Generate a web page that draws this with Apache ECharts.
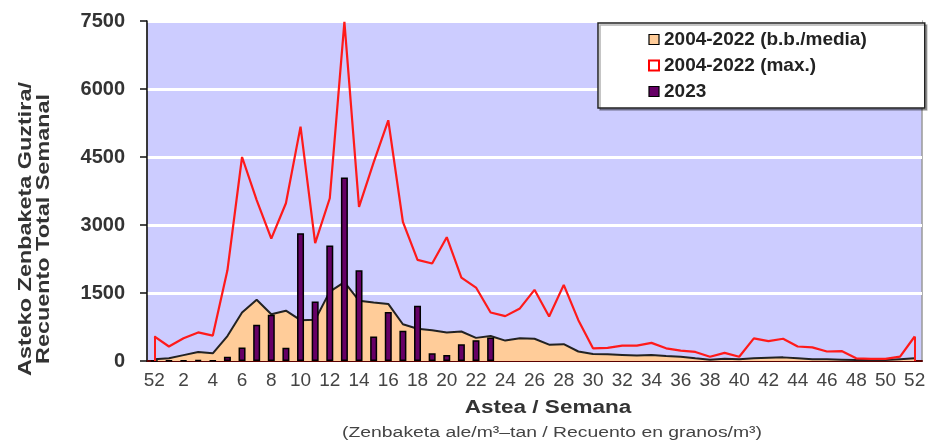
<!DOCTYPE html>
<html>
<head>
<meta charset="utf-8">
<script src="https://cdn.jsdelivr.net/npm/echarts@6/dist/echarts.min.js"></script>
<style>
  html, body { margin: 0; padding: 0; background: #fff; }
  #chart { width: 934px; height: 448px; }
</style>
</head>
<body>
<div id="chart"></div>
<script>
// semanas: 52 (año anterior), 1 ... 52
var weeks = ['52']
for (var w = 1; w <= 52; w++) weeks.push(String(w))

// 2004-2022 media
var meanVals = [40, 60, 130, 200, 170, 550, 1070, 1350, 1030, 1110, 900, 910, 1530, 1740, 1330, 1290, 1260, 810, 710, 680,
  630, 650, 510, 550, 450, 500, 490, 360, 370, 210, 155, 150, 135, 120, 130, 110, 95, 60, 30, 50,
  40, 60, 70, 80, 60, 40, 40, 30, 20, 20, 20, 40, 60]

// 2004-2022 max
var maxVals = [545, 320, 500, 630, 560, 2000, 4500, 3550, 2700, 3480, 5170, 2600, 3590, 7480, 3400, 4380, 5310, 3070, 2230, 2150,
  2730, 1840, 1620, 1070, 990, 1160, 1570, 980, 1680, 900, 280, 290, 340, 340, 400, 280, 230, 200, 95, 180,
  95, 500, 440, 490, 320, 300, 210, 220, 60, 45, 45, 95, 540]

// 2023
var vals2023 = [0, 10, 15, 20, 10, 95, 300, 800, 1020, 290, 2820, 1310, 2550, 4050, 2000, 540, 1080, 670, 1220, 170,
  130, 370, 460, 520, null, null, null, null, null, null, null, null, null, null, null, null, null, null, null, null,
  null, null, null, null, null, null, null, null, null, null, null, null, null]

var yTicks = [0, 1500, 3000, 4500, 6000, 7500]
var last = weeks.length - 1

var chart = echarts.init(document.getElementById('chart'))
chart.setOption({
  animation: false,
  grid: {
    left: 147,
    right: 12,
    top: 21,
    bottom: 87,
    show: true,
    backgroundColor: '#ccccff',
    borderColor: '#999',
    borderWidth: 1.5
  },
  legend: {
    orient: 'vertical',
    left: 598,
    top: 23,
    padding: [7, 58, 7, 50],
    itemWidth: 10,
    itemHeight: 10,
    itemGap: 7,
    backgroundColor: '#fff',
    borderColor: '#222',
    borderWidth: 1.5,
    shadowColor: 'rgba(0,0,0,0.3)',
    shadowOffsetX: 2,
    shadowOffsetY: 2,
    textStyle: { fontFamily: 'Liberation Sans, Arial, sans-serif', fontSize: 19, fontWeight: 'bold', color: '#222' },
    data: [
      { name: '2004-2022 (b.b./media)', icon: 'rect', itemStyle: { color: '#ffcc99', borderColor: '#000', borderWidth: 1.2 } },
      { name: '2004-2022 (max.)', icon: 'rect', itemStyle: { color: '#fff', borderColor: '#ff0000', borderWidth: 2 } },
      { name: '2023', icon: 'rect', itemStyle: { color: '#660066', borderColor: '#000', borderWidth: 1.2 } }
    ]
  },
  xAxis: {
    type: 'category',
    data: weeks,
    boundaryGap: true,
    axisLine: { lineStyle: { color: '#5a0000', width: 2 } },
    axisTick: { interval: 0, length: 5, lineStyle: { color: '#222', width: 1.5 } },
    axisLabel: {
      interval: 1,
      margin: 10,
      fontFamily: 'Liberation Sans, Arial, sans-serif',
      fontSize: 19,
      color: '#444'
    },
    splitLine: { show: false }
  },
  yAxis: {
    type: 'value',
    min: yTicks[0],
    max: yTicks[yTicks.length - 1],
    interval: 1500,
    axisLine: { show: true, lineStyle: { color: '#111', width: 1.5 } },
    axisTick: { show: true, length: 7, lineStyle: { color: '#111', width: 1.5 } },
    axisLabel: {
      margin: 22,
      formatter: function (v) { return String(v) },
      fontFamily: 'Liberation Sans, Arial, sans-serif',
      fontSize: 20,
      fontWeight: 'bold',
      color: '#333'
    },
    splitLine: { show: true, lineStyle: { color: '#fff', width: 3 } }
  },
  graphic: [
    {
      type: 'text',
      x: 35,
      y: 229,
      rotation: Math.PI / 2,
      scaleX: 1.3,
      style: {
        text: 'Asteko Zenbaketa Guztira/\nRecuento Total Semanal',
        fontFamily: 'Liberation Sans, Arial, sans-serif',
        fontSize: 18,
        fontWeight: 'bold',
        lineHeight: 18,
        fill: '#333',
        align: 'center',
        verticalAlign: 'middle'
      }
    },
    {
      type: 'text',
      x: 548,
      y: 408,
      scaleX: 1.25,
      style: {
        text: 'Astea / Semana',
        fontFamily: 'Liberation Sans, Arial, sans-serif',
        fontSize: 18,
        fontWeight: 'bold',
        fill: '#333',
        align: 'center',
        verticalAlign: 'middle'
      }
    },
    {
      type: 'text',
      x: 552,
      y: 433,
      scaleX: 1.25,
      style: {
        text: '(Zenbaketa ale/m³–tan / Recuento en granos/m³)',
        fontFamily: 'Liberation Sans, Arial, sans-serif',
        fontSize: 15.5,
        fill: '#444',
        align: 'center',
        verticalAlign: 'middle'
      }
    }
  ],
  series: [
    {
      name: '2004-2022 (b.b./media)',
      type: 'line',
      data: meanVals,
      symbol: 'none',
      lineStyle: { color: '#222', width: 2 },
      itemStyle: { color: '#ffcc99' },
      areaStyle: { color: '#ffcc99', opacity: 1 },
      z: 2
    },
    {
      name: '2023',
      type: 'bar',
      data: vals2023,
      barWidth: 7,
      itemStyle: { color: '#660066', borderColor: '#000', borderWidth: 1.5 },
      z: 3
    },
    {
      name: '2004-2022 (max.)',
      type: 'line',
      data: maxVals,
      symbol: 'none',
      lineStyle: { color: '#ff1a1a', width: 2.2 },
      itemStyle: { color: '#ff1a1a' },
      z: 4,
      markLine: {
        silent: true,
        symbol: 'none',
        label: { show: false },
        lineStyle: { color: '#ff1a1a', width: 2, type: 'solid' },
        data: [
          [{ coord: [0, 0] }, { coord: [0, maxVals[0]] }],
          [{ coord: [last, 0] }, { coord: [last, maxVals[last]] }]
        ]
      }
    }
  ]
})
</script>
</body>
</html>
